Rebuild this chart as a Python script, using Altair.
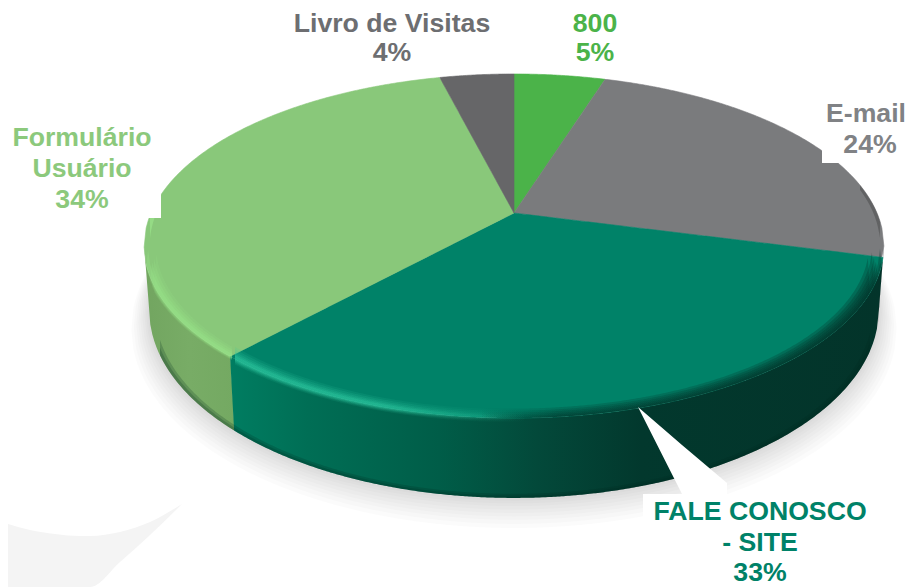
import numpy as np
import pandas as pd
import altair as alt

# ---- values
categories = ["800", "E-mail", "FALE CONOSCO - SITE", "Formulário Usuário", "Livro de Visitas"]
shares = [4.8, 24.3, 32.6, 34.4, 3.9]
slice_colors = ["#4bb349", "#7a7b7d", "#008268", "#89c87a", "#666668"]

label_lines = ["Livro de Visitas", "4%", "800", "5%", "E-mail", "24%", "Formulário", "Usuário", "34%",
               "FALE CONOSCO", "- SITE", "33%"]
label_colors = ["#6d6e71", "#6d6e71", "#4bb349", "#4bb349", "#808285", "#808285",
                "#8cc97c", "#8cc97c", "#8cc97c", "#008268", "#008268", "#008268"]
label_x = [392, 392, 595, 595, 866, 870, 82, 82, 82, 760, 760, 760]
label_y = [24, 53, 24, 53, 114, 145, 138, 169, 200, 512, 543, 573]

# decorative swoosh at the lower left
swoosh_x = [8, 30, 55, 80, 90, 120, 150, 182]
swoosh_top = [524, 530, 534, 536, 536, 532, 522, 504]
swoosh_bottom = [587, 587, 587, 587, 587, 562, 535, 504]

# white label boxes / callout
box_x = [8, 822, 643]
box_x2 = [161, 907, 870]
box_y = [8, 8, 494]
box_y2 = [218, 163, 587]
callout_x = [638, 682, 727]
callout_top = [407, 445, 483]
callout_bottom = [407, 494, 494]

# ---- pie perspective (top disc and bottom disc)
K = 0.192
TOP = dict(cx=514.0, cy=213.0, a=363.0, b=165.7)
BOT = dict(cx=514.0, cy=273.9, a=358.0, b=181.0)
cum = np.concatenate([[0], np.cumsum(shares)]) * 3.6
L_EXT, R_EXT = 259.0, 101.0


def rim(theta, disc=TOP, r=1.0):
    t = np.radians(np.asarray(theta, dtype=float))
    X, Y = r * np.sin(t), r * np.cos(t)
    d = 1 + K * Y
    return disc["cx"] + disc["a"] * X / d, disc["cy"] - disc["b"] * Y / d


def slice_poly(px, py, n=None, extra=()):
    """Vertical slices through an x-monotone polygon."""
    px = np.round(px, 6)
    xs = np.linspace(px.min(), px.max(), n or max(30, int((px.max() - px.min()) / 2)))
    xs = np.union1d(xs, [e for e in extra if px.min() < e < px.max()])
    x0, y0 = px, py
    x1, y1 = np.roll(px, -1), np.roll(py, -1)
    up, low = [], []
    for x in xs:
        m = (np.minimum(x0, x1) <= x) & (x <= np.maximum(x0, x1)) & (x0 != x1)
        ys = y0[m] + (x - x0[m]) * (y1[m] - y0[m]) / (x1[m] - x0[m])
        up.append(ys.min())
        low.append(ys.max())
    return pd.DataFrame({"x": xs, "y": up, "y2": low})


def wedge(t0, t1):
    th = np.linspace(t0, t1, 120)
    x, y = rim(th)
    return slice_poly(np.r_[TOP["cx"], x], np.r_[TOP["cy"], y], extra=[TOP["cx"]])


def wall(t0, t1):
    th = np.linspace(t0, t1, 120)
    x, y = rim(th)
    xb, yb = rim(th[::-1], BOT)
    return slice_poly(np.r_[x, xb], np.r_[y, yb])


def arc_chain(disc, r, side):
    th = np.linspace(R_EXT, L_EXT, 500) if side == "lower" else np.linspace(L_EXT, R_EXT + 360, 500)
    x, y = rim(th, disc, r)
    o = np.argsort(x)
    return x[o], y[o]


def band(r0, r1, xmin, xmax, side="lower", disc=TOP):
    xs = np.linspace(xmin, xmax, max(40, int((xmax - xmin) / 2)))
    xa, ya = arc_chain(disc, r0, side)
    xb, yb = arc_chain(disc, r1, side)
    y0 = np.interp(xs, xa, ya)
    y1 = np.interp(xs, xb, yb)
    y0 = np.where((xs < xa.min()) | (xs > xa.max()), y1, y0)
    return pd.DataFrame({"x": xs, "y": y0, "y2": y1})


def hgrad(stops):
    return alt.Gradient(gradient="linear", x1=0, x2=1, y1=0, y2=0,
                        stops=[alt.GradientStop(offset=o, color=c) for o, c in stops])


X_ENC = alt.X("x:Q", axis=None, scale=alt.Scale(domain=[8, 907], nice=False, zero=False))
Y_ENC = alt.Y("y:Q", axis=None, scale=alt.Scale(domain=[587, 8], nice=False, zero=False))


def area(df, color, opacity=1.0, stroke=False, interpolate="linear"):
    kw = dict(stroke=color, strokeWidth=0.6) if stroke else dict(strokeWidth=0)
    return alt.Chart(df).mark_area(color=color, opacity=opacity, orient="vertical",
                                   interpolate=interpolate, clip=True, **kw).encode(
        x=X_ENC, y=Y_ENC, y2="y2:Q")


layers = []

# swoosh
layers.append(area(pd.DataFrame({"x": swoosh_x, "y": swoosh_top, "y2": swoosh_bottom}), "#f4f4f4",
                   interpolate="monotone"))

# soft shadow
for d in [22, 19, 16, 13.5, 11, 8.5, 6, 4, 2]:
    disc = dict(cx=BOT["cx"], cy=BOT["cy"] + d * 0.75, a=BOT["a"] + d * 0.8, b=BOT["b"] + d * 0.5)
    x, y = rim(np.linspace(0, 359.5, 400), disc)
    i = np.argmin(x)
    x, y = np.roll(x, -i), np.roll(y, -i)
    layers.append(area(slice_poly(x, y), "#000000", 0.017))

# side walls
layers.append(area(wall(222, L_EXT), hgrad([(0, "#72a560"), (0.5, "#78ac66"), (1, "#74a962")])))
layers.append(area(wall(R_EXT + 4, cum[3]),
                   hgrad([(0, "#007d61"), (0.12, "#006e55"), (0.32, "#005d48"), (0.47, "#03493a"),
                          (0.63, "#02382d"), (1, "#03342a")])))
layers.append(area(wall(R_EXT, R_EXT + 4), "#3c3c3e"))

# soft dark lower edge of the wall
for r0 in [0.985, 0.992]:
    layers.append(area(band(r0, 1.0, 160, 870, "lower", BOT), "#00261e", 0.2))

# top surfaces
for i, c in enumerate(slice_colors):
    layers.append(area(wedge(cum[i], cum[i + 1]), c, stroke=True))

# bevel: Formulário
F0, F1 = 144.0, 232.0
for r0, r1, o in [(0.97, 1.008, 0.14), (0.977, 1.006, 0.18), (0.984, 1.004, 0.22), (0.99, 1.002, 0.3)]:
    layers.append(area(band(r0, r1, F0, F1), "#9ce88c", o))
layers.append(area(band(0.985, 1.0, F0, 160, "upper"), "#9ce88c", 0.6))

# bevel: FALE CONOSCO
G0, G1 = 235.0, 884.0
for r0, r1, o in [(0.965, 1.016, 0.12), (0.972, 1.012, 0.16), (0.979, 1.009, 0.2), (0.985, 1.006, 0.26),
                  (0.99, 1.003, 0.34)]:
    layers.append(area(band(r0, r1, G0, G1),
                       hgrad([(0, f"rgba(45,200,160,{o})"), (0.22, f"rgba(45,200,160,{o})"),
                              (0.45, "rgba(45,200,160,0)"), (1, "rgba(45,200,160,0)")])))
for r0 in [0.962, 0.97, 0.977, 0.984, 0.99, 0.995]:
    layers.append(area(band(r0, 1.0, 480, G1),
                       hgrad([(0, "rgba(3,52,42,0)"), (0.2, "rgba(3,52,42,0.2)"), (1, "rgba(3,52,42,0.3)")])))
# dark edge on the far right of E-mail
layers.append(area(band(0.99, 1.0, 860, G1, "upper"), "#333335", 0.35))

# white label boxes and callout pointer
layers.append(alt.Chart(pd.DataFrame({"x": box_x, "x2": box_x2, "y": box_y, "y2": box_y2}))
              .mark_rect(color="#ffffff", clip=True)
              .encode(x=X_ENC, x2="x2:Q", y=Y_ENC, y2="y2:Q"))
layers.append(area(pd.DataFrame({"x": callout_x, "y": callout_top, "y2": callout_bottom}), "#ffffff"))

# labels
labels = pd.DataFrame({"x": label_x, "y": label_y, "t": label_lines, "c": label_colors})
layers.append(alt.Chart(labels).mark_text(font="Liberation Sans", fontWeight="bold", fontSize=26.67,
                                          align="center", baseline="middle", clip=False)
              .encode(x=X_ENC, y=Y_ENC, text="t:N", color=alt.Color("c:N", scale=None)))

chart = alt.layer(*layers).properties(
    width=899, height=579, padding=0, autosize=alt.AutoSizeParams(type="none"),
    background="#ffffff",
).configure_view(stroke=None)

chart.save("out.html", embed_options={"renderer": "svg", "actions": False})
